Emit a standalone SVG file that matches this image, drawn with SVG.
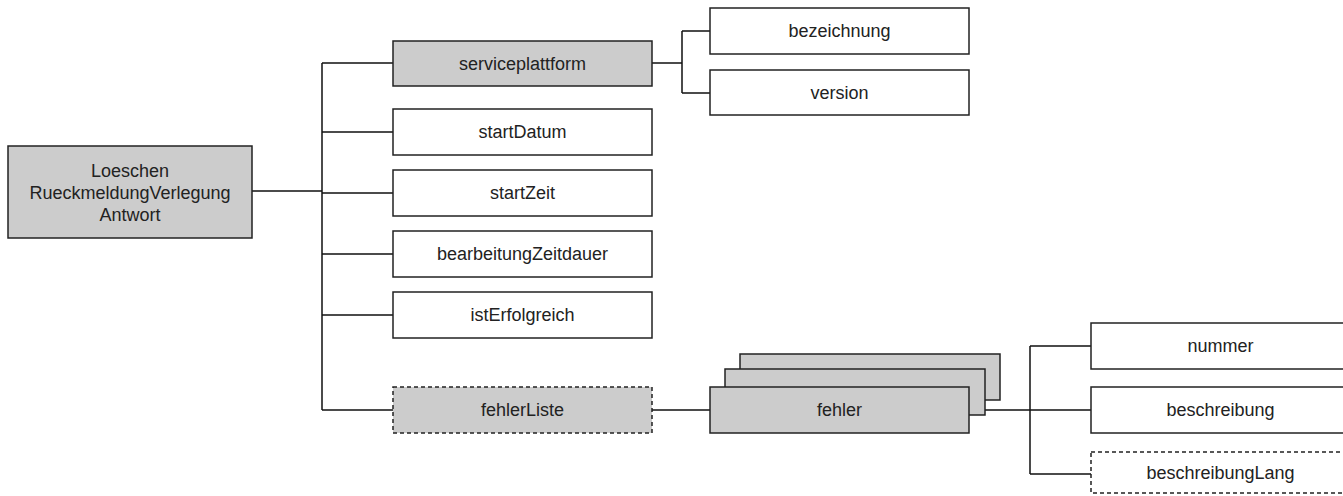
<svg xmlns="http://www.w3.org/2000/svg" width="1343" height="496" viewBox="0 0 1343 496">
<style>
.box{fill:#ffffff;stroke:#222222;stroke-width:1.5}
.grey{fill:#cccccc}
.dash{stroke-dasharray:4 3}
.lbl{font-family:"Liberation Sans",Arial,sans-serif;font-size:18px;fill:#222222;text-anchor:middle}
.conn{fill:none;stroke:#111111;stroke-width:1.5}
</style>
<rect width="1343" height="496" fill="#ffffff"/>
<g id="connectors">
<path class="conn" d="M252,191H322M322,63V410M322,63H393M322,132H393M322,193H393M322,254H393M322,315H393M322,410H393"/>
<path class="conn" d="M652,63H682M682,31V93M682,31H710M682,93H710"/>
<path class="conn" d="M652,410H710M969,410H1030M1030,346V474M1030,346H1091M1030,410H1091M1030,474H1091"/>
</g>
<g id="root"><rect class="box grey" x="8" y="146" width="244" height="92"/>
<text class="lbl" x="130" y="177">Loeschen</text><text class="lbl" x="130" y="199">RueckmeldungVerlegung</text><text class="lbl" x="130" y="221">Antwort</text></g>
<g id="serviceplattform"><rect class="box grey" x="393" y="41" width="259" height="45"/><text class="lbl" x="522.5" y="70">serviceplattform</text></g>
<g id="bezeichnung"><rect class="box" x="710" y="8" width="259" height="46"/><text class="lbl" x="839.5" y="37">bezeichnung</text></g>
<g id="version"><rect class="box" x="710" y="70" width="259" height="45"/><text class="lbl" x="839.5" y="99">version</text></g>
<g id="startDatum"><rect class="box" x="393" y="109" width="259" height="46"/><text class="lbl" x="522.5" y="138">startDatum</text></g>
<g id="startZeit"><rect class="box" x="393" y="170" width="259" height="46"/><text class="lbl" x="522.5" y="199">startZeit</text></g>
<g id="bearbeitungZeitdauer"><rect class="box" x="393" y="231" width="259" height="46"/><text class="lbl" x="522.5" y="260">bearbeitungZeitdauer</text></g>
<g id="istErfolgreich"><rect class="box" x="393" y="292" width="259" height="46"/><text class="lbl" x="522.5" y="321">istErfolgreich</text></g>
<g id="fehlerListe"><rect class="box grey dash" x="393" y="387" width="259" height="46"/><text class="lbl" x="522.5" y="416">fehlerListe</text></g>
<g id="fehler">
<rect class="box grey" x="740" y="354" width="260" height="46"/>
<rect class="box grey" x="725" y="369" width="260" height="46"/>
<rect class="box grey" x="710" y="387" width="259" height="46"/>
<text class="lbl" x="839.5" y="416">fehler</text></g>
<g id="nummer"><rect class="box" x="1091" y="323" width="259" height="46"/><text class="lbl" x="1220.5" y="352">nummer</text></g>
<g id="beschreibung"><rect class="box" x="1091" y="387" width="259" height="46"/><text class="lbl" x="1220.5" y="416">beschreibung</text></g>
<g id="beschreibungLang"><rect class="box dash" x="1091" y="452" width="259" height="41"/><text class="lbl" x="1220.5" y="479">beschreibungLang</text></g>
</svg>
